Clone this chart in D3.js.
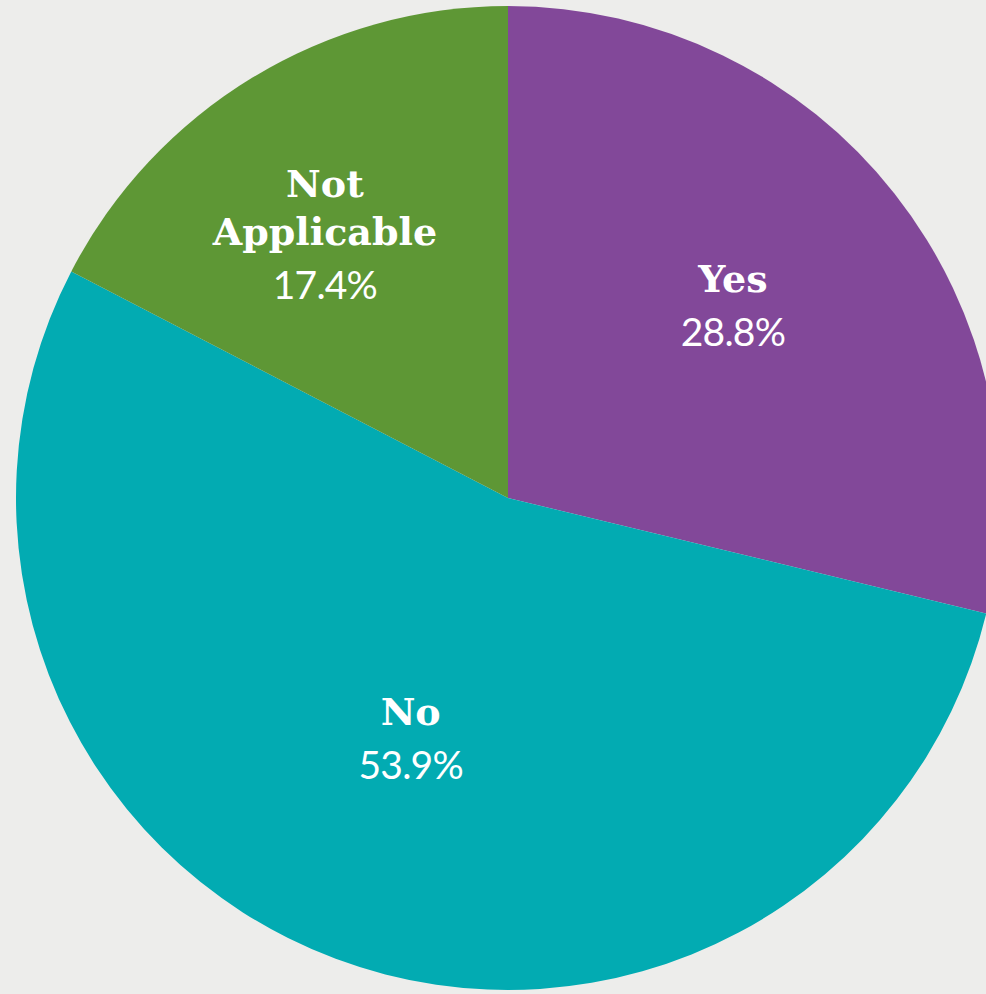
<!DOCTYPE html>
<html>
<head>
<meta charset="utf-8">
<script src="https://cdn.jsdelivr.net/npm/d3@7"></script>
<style>
  html, body { margin: 0; padding: 0; background: #ededeb; overflow: hidden; }
</style>
</head>
<body>
<div id="chart"></div>
<script>
// values
const categories = ["Yes", "No", "Not Applicable"]
const values = [28.8, 53.9, 17.4]
const nameLines = [["Yes"], ["No"], ["Not", "Applicable"]]
const colors = ["#824899", "#02abb2", "#5e9735"]

const width = 986
const height = 994
const cx = 508, cy = 498
const radius = 492
// label distance from centre (fraction of radius) and small nudges, per slice
const labelFrac = [0.60, 0.53, 0.65]
const labelNudge = [[-7, -10], [-6, -4], [-17, 10]]

const svg = d3.select("#chart")
  .append("svg")
  .attr("width", width)
  .attr("height", height)

svg.append("rect")
  .attr("width", width)
  .attr("height", height)
  .attr("fill", "#ededeb")

const g = svg.append("g")
  .attr("transform", `translate(${cx},${cy})`)

const data = categories.map((c, i) => ({ name: c, value: values[i], i: i }))

const pie = d3.pie()
  .value(d => d.value)
  .sort(null)

const arc = d3.arc()
  .innerRadius(0)
  .outerRadius(radius)

const arcs = pie(data)

g.selectAll("path.slice")
  .data(arcs)
  .enter()
  .append("path")
  .attr("class", "slice")
  .attr("d", arc)
  .attr("fill", d => colors[d.data.i])

// labels: bold slab name line(s) then percentage
const labels = g.selectAll("g.label")
  .data(arcs)
  .enter()
  .append("g")
  .attr("class", "label")
  .attr("transform", d => {
    const r = radius * labelFrac[d.data.i]
    const la = d3.arc().innerRadius(r).outerRadius(r)
    const [x, y] = la.centroid(d)
    const [nx, ny] = labelNudge[d.data.i]
    return `translate(${x + nx},${y + ny})`
  })

const capH = 27
labels.each(function (d) {
  const sel = d3.select(this)
  const lines = nameLines[d.data.i]
  const nameGap = 48
  const pctGap = 54
  const total = (lines.length - 1) * nameGap + pctGap
  // centre the block between the first cap top and the last baseline
  const y0 = -(total - capH) / 2
  lines.forEach((t, k) => {
    sel.append("text")
      .attr("x", 0)
      .attr("y", y0 + k * nameGap)
      .attr("text-anchor", "middle")
      .style("font-family", "'DejaVu Serif', serif")
      .style("font-weight", "bold")
      .style("font-size", "38px")
      .style("fill", "#ffffff")
      .text(t)
  })
  sel.append("text")
    .attr("x", 0)
    .attr("y", y0 + (lines.length - 1) * nameGap + pctGap)
    .attr("text-anchor", "middle")
    .style("font-family", "Lato, 'Open Sans', sans-serif")
    .style("font-size", "39px")
    .style("letter-spacing", "-0.8px")
    .style("fill", "#ffffff")
    .text(d3.format(".1f")(d.data.value) + "%")
})
</script>
</body>
</html>
